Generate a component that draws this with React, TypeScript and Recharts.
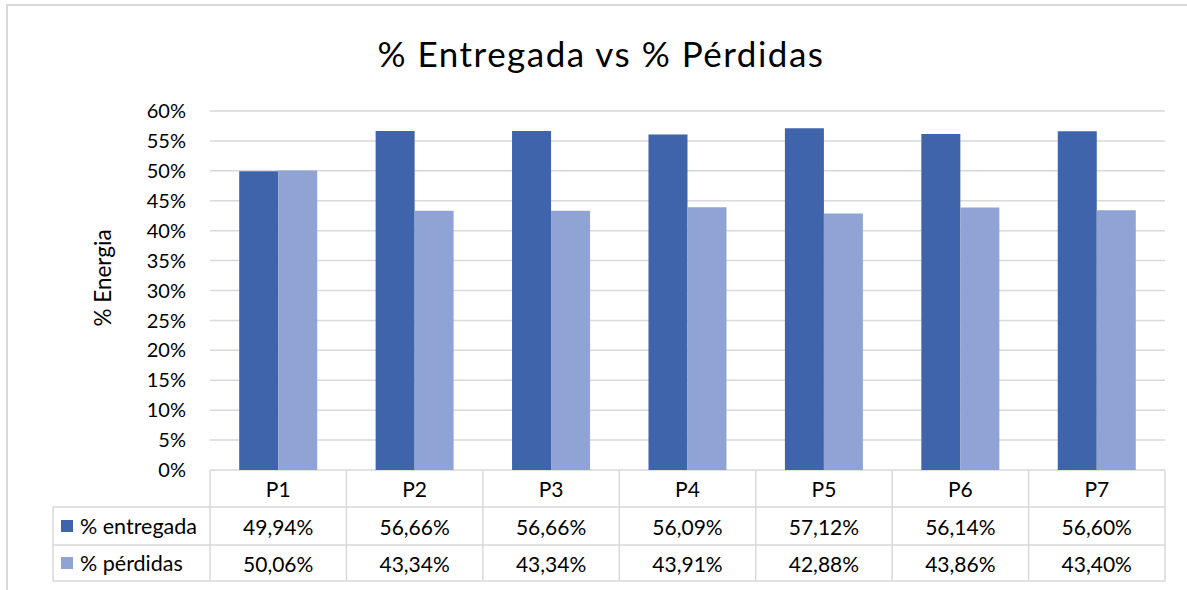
import React from 'react';
import { BarChart, Bar, XAxis, YAxis, CartesianGrid } from 'recharts';

const categories = ['P1', 'P2', 'P3', 'P4', 'P5', 'P6', 'P7'];
const entregada = [49.94, 56.66, 56.66, 56.09, 57.12, 56.14, 56.6];
const perdidas = [50.06, 43.34, 43.34, 43.91, 42.88, 43.86, 43.4];
const yTicks = [0, 5, 10, 15, 20, 25, 30, 35, 40, 45, 50, 55, 60];
const seriesNames = ['% entregada', '% pérdidas'];

const data = categories.map((c, i) => ({
  name: c,
  entregada: entregada[i],
  perdidas: perdidas[i],
}));

const W = 1187;
const H = 590;
const PLOT_LEFT = 210;
const PLOT_RIGHT = 1165;
const PLOT_TOP = 111;
const PLOT_BOTTOM = 470;
const ROW_H = [37, 38, 36];
const TABLE_LEFT = 53;
const DARK = '#3F64AB';
const LIGHT = '#8FA4D4';
const GRID = '#d9d9d9';
const FONT = 'Lato, sans-serif';

const cellW = (PLOT_RIGHT - PLOT_LEFT) / categories.length;
const fmt = (v: number) => v.toFixed(2).replace('.', ',') + '%';

function TableTick(props: any) {
  const { x, payload } = props;
  const i = payload.index;
  const left = x - cellW / 2;
  const right = x + cellW / 2;
  const y0 = PLOT_BOTTOM;
  const y1 = y0 + ROW_H[0];
  const y2 = y1 + ROW_H[1];
  const y3 = y2 + ROW_H[2];
  const textStyle = { fontFamily: FONT, fontSize: 21, fill: '#000' };
  return (
    <g>
      <line x1={right} y1={y0} x2={right} y2={y3} stroke={GRID} strokeWidth={1.5} />
      <line x1={left} y1={y1} x2={right} y2={y1} stroke={GRID} strokeWidth={1.5} />
      <line x1={left} y1={y2} x2={right} y2={y2} stroke={GRID} strokeWidth={1.5} />
      <line x1={left} y1={y3} x2={right} y2={y3} stroke={GRID} strokeWidth={1.5} />
      <text x={x} y={(y0 + y1) / 2} textAnchor="middle" dominantBaseline="central" {...textStyle}>
        {payload.value}
      </text>
      <text x={x} y={(y1 + y2) / 2} textAnchor="middle" dominantBaseline="central" {...textStyle}>
        {fmt(entregada[i])}
      </text>
      <text x={x} y={(y2 + y3) / 2} textAnchor="middle" dominantBaseline="central" {...textStyle}>
        {fmt(perdidas[i])}
      </text>
      {i === 0 && (
        <g>
          <line x1={left} y1={y0} x2={left} y2={y3} stroke={GRID} strokeWidth={1.5} />
          <line x1={TABLE_LEFT} y1={y1} x2={left} y2={y1} stroke={GRID} strokeWidth={1.5} />
          <line x1={TABLE_LEFT} y1={y2} x2={left} y2={y2} stroke={GRID} strokeWidth={1.5} />
          <line x1={TABLE_LEFT} y1={y3} x2={left} y2={y3} stroke={GRID} strokeWidth={1.5} />
          <line x1={TABLE_LEFT} y1={y1} x2={TABLE_LEFT} y2={y3} stroke={GRID} strokeWidth={1.5} />
          {seriesNames.map((s, k) => {
            const cy = k === 0 ? (y1 + y2) / 2 : (y2 + y3) / 2;
            return (
              <g key={s}>
                <rect x={61} y={cy - 6} width={12} height={12} fill={k === 0 ? DARK : LIGHT} />
                <text x={80} y={cy} dominantBaseline="central" {...textStyle} fontSize={21.5}>
                  {s}
                </text>
              </g>
            );
          })}
        </g>
      )}
    </g>
  );
}

export default function App() {
  return (
    <div style={{ position: 'absolute', left: 0, top: 0, width: W, height: H, overflow: 'hidden', background: '#fff' }}>
      <div
        style={{
          position: 'absolute',
          left: 6,
          top: 4,
          width: 1300,
          height: 700,
          border: `2px solid ${GRID}`,
          boxSizing: 'border-box',
        }}
      />
      <div
        style={{
          position: 'absolute',
          left: 0,
          top: 32,
          width: 1202,
          textAlign: 'center',
          fontFamily: FONT,
          fontSize: 35,
          letterSpacing: 1.5,
          color: '#000',
          lineHeight: '42px',
        }}
      >
        % Entregada vs % Pérdidas
      </div>
      <div style={{ position: 'absolute', left: 0, top: 0 }}>
        <BarChart
          width={W}
          height={H}
          data={data}
          margin={{ top: PLOT_TOP, right: W - PLOT_RIGHT, left: PLOT_LEFT - 60, bottom: H - PLOT_BOTTOM - 111 }}
          barCategoryGap="21.4%"
          barGap={0}
        >
          <CartesianGrid vertical={false} stroke={GRID} strokeWidth={1.5} />
          <XAxis
            dataKey="name"
            height={111}
            axisLine={false}
            tickLine={false}
            tickSize={0}
            tickMargin={0}
            interval={0}
            tick={(p: any) => <TableTick {...p} />}
          />
          <YAxis
            width={60}
            domain={[0, 60]}
            ticks={yTicks}
            axisLine={false}
            tickLine={false}
            tickSize={0}
            tickMargin={24}
            tickFormatter={(v: number) => `${v}%`}
            tick={{ fontFamily: FONT, fontSize: 20, fill: '#000' }}
            label={{
              content: () => (
                <text
                  x={102}
                  y={278}
                  transform="rotate(-90 102 278)"
                  textAnchor="middle"
                  dominantBaseline="central"
                  style={{ fontFamily: FONT, fontSize: 22.5, fill: '#000' }}
                >
                  % Energia
                </text>
              ),
            }}
          />
          <Bar dataKey="entregada" name={seriesNames[0]} fill={DARK} isAnimationActive={false} />
          <Bar dataKey="perdidas" name={seriesNames[1]} fill={LIGHT} isAnimationActive={false} />
        </BarChart>
      </div>
    </div>
  );
}
